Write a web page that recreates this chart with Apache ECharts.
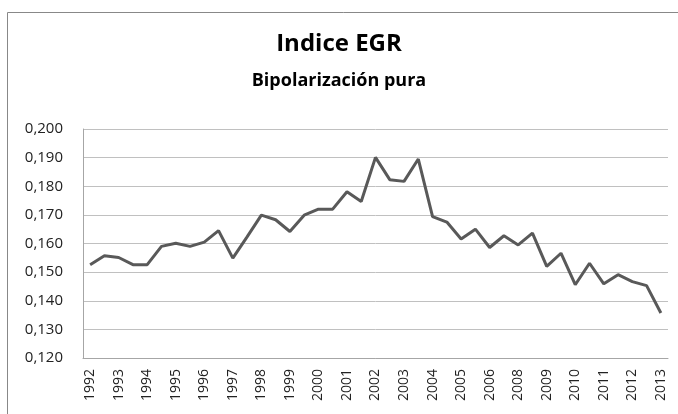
<!DOCTYPE html>
<html>
<head>
<meta charset="utf-8">
<script src="https://cdn.jsdelivr.net/npm/echarts@6/dist/echarts.min.js"></script>
<style>html,body{margin:0;padding:0;background:#fff}#c{width:678px;height:414px}</style>
</head>
<body>
<div id="c"></div>
<script>
const titleText = 'Indice EGR';
const subtitleText = 'Bipolarización pura';
const categories = ['1992','','1993','','1994','','1995','','1996','','1997','','1998','','1999','','2000','','2001','','2002','','2003','','2004','','2005','','2006','','2008','','2009','','2010','','2011','','2012','','2013'];
const values = [0.1526,0.1557,0.1551,0.1526,0.1526,0.1590,0.1601,0.1590,0.1605,0.1645,0.1549,0.1623,0.1699,0.1683,0.1642,0.1699,0.1720,0.1720,0.1781,0.1747,0.1901,0.1823,0.1817,0.1895,0.1694,0.1675,0.1616,0.1650,0.1586,0.1627,0.1595,0.1636,0.1520,0.1566,0.1456,0.1531,0.1459,0.1491,0.1467,0.1453,0.1357];
const yMin = 0.12, yMax = 0.2, yStep = 0.01;

const chart = echarts.init(document.getElementById('c'));
chart.setOption({
  animation: false,
  backgroundColor: '#fff',
  graphic: [{type:'rect', shape:{x:7.5,y:12.5,width:700,height:420}, style:{fill:'none', stroke:'#888', lineWidth:1}}],
  title: [
    {text: titleText, left: 'center', top: 27, textStyle:{fontFamily:'Open Sans', fontWeight:'bold', fontSize:24, color:'#000'}},
    {text: subtitleText, left: 'center', top: 67, textStyle:{fontFamily:'Open Sans', fontWeight:'bold', fontSize:18, color:'#000'}}
  ],
  grid: {left: 83, right: 10, top: 129, bottom: 56},
  xAxis: {
    type: 'category', data: categories, boundaryGap: true,
    axisLine: {show: true, lineStyle:{color:'#a6a6a6'}},
    axisTick: {show: false},
    axisLabel: {interval: 0, rotate: 90, color:'#222', fontFamily:'Open Sans', fontSize:14, margin: 11}
  },
  yAxis: {
    type: 'value', min: yMin, max: yMax, interval: yStep,
    axisLine: {show: true, lineStyle:{color:'#a6a6a6'}},
    axisTick: {show: false},
    splitLine: {lineStyle:{color:'#c0c0c0'}},
    axisLabel: {color:'#222', fontFamily:'Open Sans', fontSize:15, margin: 20,
      formatter: v => v.toFixed(3).replace('.', ',')}
  },
  series: [{type:'line', data: values, symbol:'none', lineStyle:{color:'#595959', width:3}}]
});
</script>
</body>
</html>
